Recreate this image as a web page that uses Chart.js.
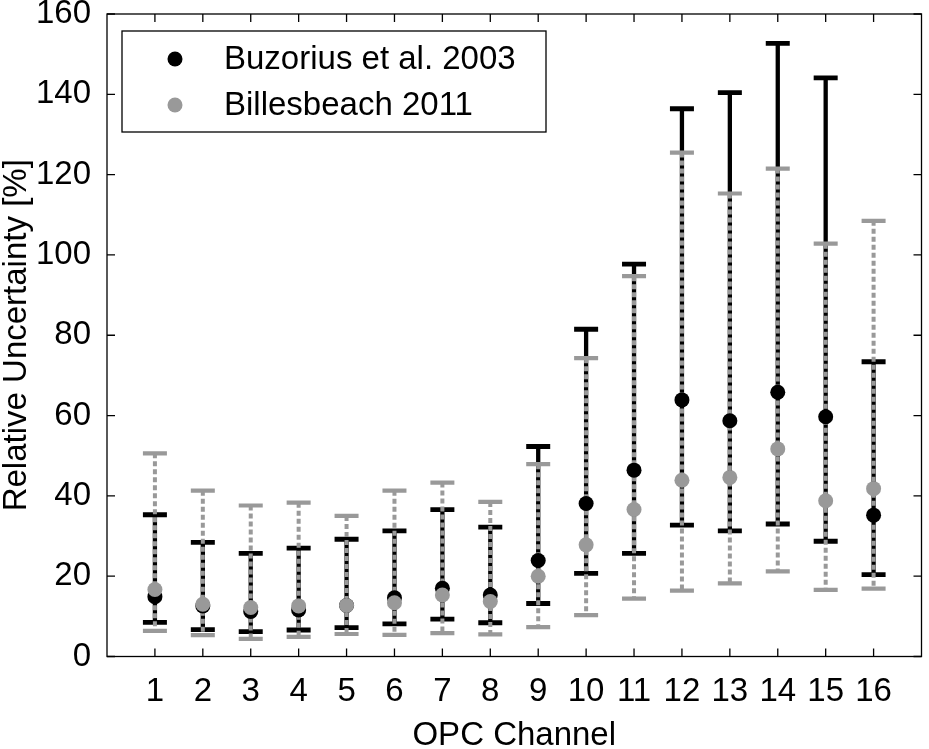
<!DOCTYPE html>
<html lang="en">
<head>
    <meta charset="UTF-8">
    <title>Relative Uncertainty per OPC Channel</title>
    <script src="https://cdn.jsdelivr.net/npm/chart.js"></script>
    <style>
        body { margin: 0; background: #fff; }
        #wrap { width: 929px; height: 749px; }
    </style>
</head>
<body>
<div id="wrap"><canvas id="uncChart" width="929" height="749"></canvas></div>

<script>
    // values (percent)
    const channels = [1, 2, 3, 4, 5, 6, 7, 8, 9, 10, 11, 12, 13, 14, 15, 16];
    const buzMean = [14.9, 12.6, 11.2, 11.6, 12.7, 14.6, 17.0, 15.3, 23.9, 38.1, 46.4, 63.9, 58.7, 65.8, 59.7, 35.2];
    const buzLow  = [8.5, 6.7, 6.2, 6.6, 7.2, 8.1, 9.3, 8.4, 13.2, 20.7, 25.7, 32.7, 31.3, 33.0, 28.7, 20.4];
    const buzHigh = [35.3, 28.4, 25.7, 27.0, 29.2, 31.3, 36.6, 32.2, 52.3, 81.5, 97.7, 136.4, 140.4, 152.7, 144.1, 73.4];
    const bilMean = [16.7, 13.0, 12.2, 12.6, 12.7, 13.4, 15.3, 13.7, 20.0, 27.8, 36.6, 43.9, 44.6, 51.7, 38.8, 41.8];
    const bilLow  = [6.4, 5.3, 4.4, 4.9, 5.6, 5.4, 5.8, 5.5, 7.3, 10.3, 14.4, 16.4, 18.2, 21.2, 16.6, 16.9];
    const bilHigh = [50.6, 41.3, 37.6, 38.3, 35.0, 41.3, 43.3, 38.5, 47.9, 74.3, 94.7, 125.5, 115.3, 121.5, 102.8, 108.5];
    const yTicks = [0, 20, 40, 60, 80, 100, 120, 140, 160];

    const FONT = '"Liberation Sans", Arial, Helvetica, sans-serif';
    const FSIZE = 33;
    const BLACK = '#000000';
    const GREY = '#999999';

    const toPoints = (vals) => channels.map((c, i) => ({ x: c, y: vals[i] }));

    // error bars: black solid first, grey dashed on top
    const errorBars = {
        id: 'errorBars',
        beforeDatasetsDraw(chart) {
            const ctx = chart.ctx;
            const xs = chart.scales.x, ys = chart.scales.y;
            const sets = [
                { low: buzLow, high: buzHigh, color: BLACK, dash: [], lw: 4.3, capW: 4.8 },
                { low: bilLow, high: bilHigh, color: GREY, dash: [5, 3], lw: 4, capW: 4.2 }
            ];
            ctx.save();
            sets.forEach(s => {
                channels.forEach((c, i) => {
                    const px = xs.getPixelForValue(c);
                    const y1 = ys.getPixelForValue(s.low[i]);
                    const y2 = ys.getPixelForValue(s.high[i]);
                    ctx.strokeStyle = s.color;
                    ctx.lineWidth = s.lw;
                    ctx.setLineDash(s.dash);
                    ctx.beginPath();
                    ctx.moveTo(px, y2);
                    ctx.lineTo(px, y1);
                    ctx.stroke();
                    ctx.setLineDash([]);
                    ctx.lineWidth = s.capW;
                    ctx.beginPath();
                    ctx.moveTo(px - 12, y1); ctx.lineTo(px + 12, y1);
                    ctx.moveTo(px - 12, y2); ctx.lineTo(px + 12, y2);
                    ctx.stroke();
                });
            });
            ctx.restore();
        }
    };

    // box round the plot with inward tick marks on all four sides
    const frameBox = {
        id: 'frameBox',
        afterDraw(chart) {
            const ctx = chart.ctx;
            const a = chart.chartArea;
            const xs = chart.scales.x, ys = chart.scales.y;
            ctx.save();
            ctx.strokeStyle = '#000';
            ctx.lineWidth = 1.3;
            ctx.strokeRect(a.left, a.top, a.right - a.left, a.bottom - a.top);
            ctx.beginPath();
            channels.forEach(c => {
                const px = xs.getPixelForValue(c);
                ctx.moveTo(px, a.bottom); ctx.lineTo(px, a.bottom - 8);
                ctx.moveTo(px, a.top); ctx.lineTo(px, a.top + 8);
            });
            yTicks.forEach(v => {
                const py = ys.getPixelForValue(v);
                ctx.moveTo(a.left, py); ctx.lineTo(a.left + 8, py);
                ctx.moveTo(a.right, py); ctx.lineTo(a.right - 8, py);
            });
            ctx.stroke();

            // legend in the upper left corner
            const bx = 122, by = 31, bw = 424, bh = 101;
            ctx.fillStyle = '#fff';
            ctx.fillRect(bx, by, bw, bh);
            ctx.strokeRect(bx, by, bw, bh);
            ctx.font = FSIZE + 'px ' + FONT;
            ctx.textAlign = 'left';
            ctx.textBaseline = 'middle';
            chart.data.datasets.forEach((ds, i) => {
                const ly = by + 28 + i * 46;
                ctx.fillStyle = ds.backgroundColor;
                ctx.beginPath();
                ctx.arc(bx + 53, ly, 7.5, 0, Math.PI * 2);
                ctx.fill();
                ctx.fillStyle = '#000';
                ctx.fillText(ds.label, bx + 102, ly + 1);
            });
            ctx.restore();
        }
    };

    const ctx = document.getElementById('uncChart').getContext('2d');
    const uncChart = new Chart(ctx, {
        type: 'scatter',
        data: {
            datasets: [
                {
                    label: 'Buzorius et al. 2003',
                    data: toPoints(buzMean),
                    backgroundColor: BLACK,
                    borderWidth: 0,
                    pointRadius: 7.5,
                    order: 2
                },
                {
                    label: 'Billesbeach 2011',
                    data: toPoints(bilMean),
                    backgroundColor: GREY,
                    borderWidth: 0,
                    pointRadius: 7.5,
                    order: 1
                }
            ]
        },
        options: {
            responsive: false,
            animation: false,
            devicePixelRatio: 1,
            layout: { padding: { left: 0, right: 6, top: 14, bottom: 0 } },
            plugins: {
                legend: { display: false },
                tooltip: { enabled: false }
            },
            scales: {
                x: {
                    type: 'linear',
                    min: 0,
                    max: 17,
                    afterBuildTicks: (scale) => { scale.ticks = channels.map(v => ({ value: v })); },
                    afterFit: (scale) => { scale.height = 92.5; scale.paddingLeft = 0; scale.paddingRight = 0; },
                    grid: { display: false },
                    border: { display: false },
                    ticks: { color: '#000', font: { family: FONT, size: FSIZE }, padding: 8, maxRotation: 0, autoSkip: false },
                    title: { display: true, text: 'OPC Channel', color: '#000', font: { family: FONT, size: FSIZE, lineHeight: 1 }, padding: { top: 0, bottom: -3 } }
                },
                y: {
                    min: 0,
                    max: 160,
                    afterBuildTicks: (scale) => { scale.ticks = yTicks.map(v => ({ value: v })); },
                    afterFit: (scale) => { scale.width = 107; scale.paddingTop = 0; scale.paddingBottom = 0; },
                    grid: { display: false },
                    border: { display: false },
                    ticks: { color: '#000', font: { family: FONT, size: FSIZE }, padding: 8 },
                    title: { display: true, text: 'Relative Uncertainty [%]', color: '#000', font: { family: FONT, size: FSIZE, lineHeight: 1 }, padding: { top: 0, bottom: 0 } }
                }
            }
        },
        plugins: [errorBars, frameBox]
    });
</script>

</body>
</html>
